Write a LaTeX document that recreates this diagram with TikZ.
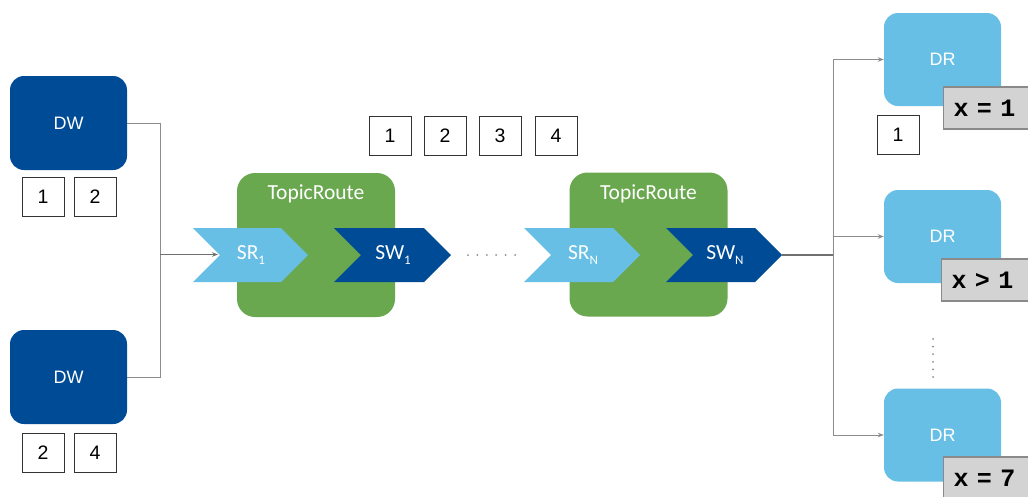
\documentclass[tikz,border=0pt]{standalone}
\usepackage{fontspec}
\setmainfont{Liberation Sans}
\newfontfamily\calib{Carlito}
\setmonofont{Liberation Mono}
\usetikzlibrary{arrows.meta}
\definecolor{dblue}{HTML}{004B96}
\definecolor{lblue}{HTML}{68BFE5}
\definecolor{tgreen}{HTML}{6AA84F}
\definecolor{wirecol}{HTML}{8C8C8C}
\definecolor{labfill}{HTML}{D3D3D3}
\definecolor{labdraw}{HTML}{8A8A8A}
\newcommand{\mysub}[1]{\raisebox{-5pt}{\fontsize{13}{13}\selectfont #1}}
\begin{document}
\begin{tikzpicture}[x=1pt,y=-1pt,
 dwbox/.style={fill=dblue, rounded corners=14pt, minimum width=117pt, minimum height=94pt, text=white, font=\fontsize{18}{21}\selectfont, inner sep=0},
 drbox/.style={fill=lblue, rounded corners=14pt, minimum width=117pt, minimum height=93pt, text=white, font=\fontsize{18}{21}\selectfont, inner sep=0},
 trbox/.style={fill=tgreen, rounded corners=18pt, minimum width=158pt, minimum height=144pt, inner sep=0},
 numbox/.style={draw=black!80, fill=white, line width=0.9pt, minimum width=42pt, minimum height=39pt, inner sep=0, font=\fontsize{19.5}{22}\selectfont},
 lab/.style={draw=labdraw, fill=labfill, line width=1.3pt, minimum height=42pt, text width=100pt, align=left, inner xsep=10pt, anchor=west, font=\ttfamily\bfseries\fontsize{25}{28}\selectfont},
 wire/.style={draw=wirecol, line width=1pt},
 mainwire/.style={draw=wirecol!80!black, line width=1.4pt},
 arr/.style={wire, -{Stealth[length=6pt,width=4.5pt]}},
 ctext/.style={text=white, font=\calib\fontsize{21.5}{25}\selectfont, inner sep=0},
 lchev/.style={fill=lblue},
 dchev/.style={fill=dblue}
]
\clip (0,0) rectangle (1028,496);
\fill[white] (0,0) rectangle (1028,496);

% Data writers
\node[dwbox] (dw1) at (68.5,123) {DW};
\node[dwbox] (dw2) at (68.5,377) {DW};
\node[numbox] (n11) at (43,197) {1};
\node[numbox] (n12) at (95,197) {2};
\node[numbox] (n21) at (43,453) {2};
\node[numbox] (n22) at (95,453) {4};

% top samples
\node[numbox] (m1) at (390,136) {1};
\node[numbox] (m2) at (445,136) {2};
\node[numbox] (m3) at (500,136) {3};
\node[numbox] (m4) at (556,136) {4};

% Topic routes
\node[trbox] (tr1) at (316,245) {};
\node[trbox] (tr2) at (648.5,244.5) {};
\node[ctext] (tr1t) at (316,194) {TopicRoute};
\node[ctext] (tr2t) at (648.5,194) {TopicRoute};

% chevrons
\fill[lchev] (193,228) -- (281,228) -- (308,255) -- (281,282) -- (193,282) -- (220,255) -- cycle;
\fill[dchev] (334,228) -- (424,228) -- (451,255) -- (424,282) -- (334,282) -- (361,255) -- cycle;
\fill[lchev] (524,228) -- (613,228) -- (640,255) -- (613,282) -- (524,282) -- (551,255) -- cycle;
\fill[dchev] (666,228) -- (755,228) -- (782,255) -- (755,282) -- (666,282) -- (693,255) -- cycle;
\node[ctext] (sr1) at (251,255) {SR\mysub{1}};
\node[ctext] (sw1) at (393,255) {SW\mysub{1}};
\node[ctext] (srn) at (583,255) {SR\mysub{N}};
\node[ctext] (swn) at (725,255) {SW\mysub{N}};
\coordinate (sr1in) at (218,254.5);
\coordinate (swnout) at (782,255);

% dots between routes
\foreach \i in {0,...,5} \fill[wirecol] (468+\i*9.4,255) circle (1pt);

% Data readers
\node[drbox] (dr1) at (942.5,59.5) {DR};
\node[drbox] (dr2) at (942.5,236.5) {DR};
\node[drbox] (dr3) at (942.5,435) {DR};
\node[lab] (l1) at (943,108) {x = 1};
\node[lab] (l2) at (941,280) {x > 1};
\node[lab] (l3) at (943,478) {x = 7};
\node[numbox] (r1) at (898,135) {1};
\foreach \i in {0,...,5} \fill[wirecol] (933,339+\i*7.6) circle (1pt);

% connectors
\coordinate (j1) at (160,254.5);
\coordinate (j2) at (833,255);
\draw[wire] (dw1.east) -| (j1);
\draw[wire] (dw2.east) -| (j1);
\draw[mainwire, -{Stealth[length=6pt,width=4.5pt]}] (j1) -- (sr1in);
\draw[mainwire] (swnout) -- (j2);
\draw[arr] (j2) |- (dr1.west);
\draw[arr] (j2) |- (dr2.west);
\draw[arr] (j2) |- (dr3.west);
\end{tikzpicture}
\end{document}
